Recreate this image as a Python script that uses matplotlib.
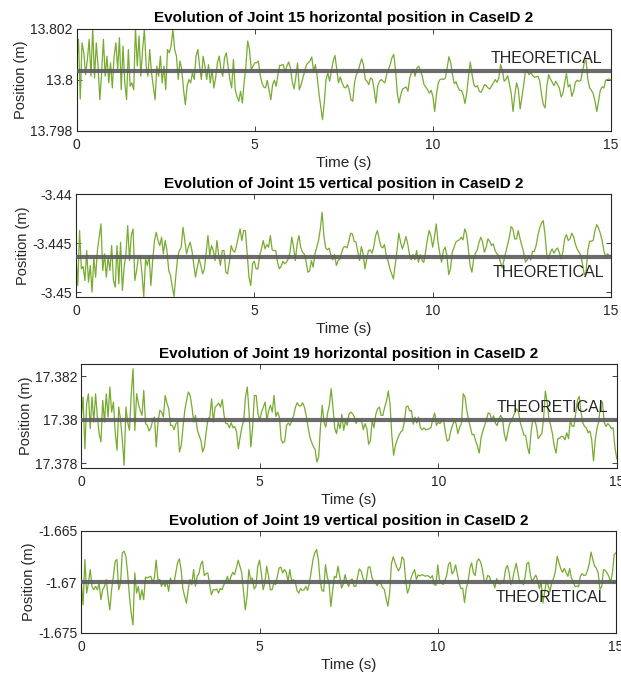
import numpy as np
import matplotlib
matplotlib.use("Agg")
import matplotlib.pyplot as plt

plt.rcParams['font.family'] = ['Liberation Sans', 'DejaVu Sans']

# ---------------- data ----------------
time_s = np.linspace(0, 15, 301)

j15_horizontal = [
    13.80059, 13.80158, 13.79925, 13.80144, 13.80105, 13.80020, 13.80079, 13.80158, 13.80014, 13.80203,
    13.80007, 13.80144, 13.80053, 13.79922, 13.80027, 13.80158, 13.80014, 13.80092, 13.79988, 13.80066,
    13.79968, 13.80092, 13.80144, 13.80040, 13.80164, 13.79961, 13.80131, 13.79988, 13.79922, 13.80118,
    13.79975, 13.79988, 13.79961, 13.80203, 13.80053, 13.80171, 13.80014, 13.80118, 13.80197, 13.80053,
    13.80014, 13.80118, 13.80027, 13.79975, 13.79922, 13.80053, 13.80014, 13.80092, 13.79988, 13.80053,
    13.79961, 13.80118, 13.80105, 13.80131, 13.80197, 13.80118, 13.80092, 13.80001, 13.80073, 13.80040,
    13.79961, 13.79903, 13.79975, 13.80001, 13.79988, 13.80027, 13.80001, 13.80092, 13.80118, 13.80053,
    13.80001, 13.80092, 13.80053, 13.80001, 13.80059, 13.79988, 13.80040, 13.79968, 13.80007, 13.80066,
    13.80092, 13.80040, 13.80014, 13.80086, 13.80105, 13.80053, 13.80001, 13.79968, 13.80079, 13.79961,
    13.79935, 13.79916, 13.79955, 13.79909, 13.79988, 13.80053, 13.80151, 13.80118, 13.80040, 13.80053,
    13.80066, 13.80066, 13.80073, 13.80020, 13.79988, 13.79972, 13.79968, 13.79998, 13.79961, 13.79922,
    13.79981, 13.79998, 13.79975, 13.80020, 13.80056, 13.80057, 13.80059, 13.80029, 13.80053, 13.80069,
    13.80046, 13.79994, 13.79964, 13.80007, 13.80066, 13.79961, 13.79981, 13.80007, 13.80033, 13.80059,
    13.80066, 13.80073, 13.80089, 13.80033, 13.80059, 13.80014, 13.79948, 13.79896, 13.79844, 13.79909,
    13.80001, 13.80027, 13.79994, 13.80033, 13.80073, 13.80095, 13.80040, 13.79988, 13.80011, 13.79988,
    13.79972, 13.79968, 13.79981, 13.79961, 13.79922, 13.79916, 13.79988, 13.80020, 13.80033, 13.80059,
    13.80082, 13.80059, 13.80001, 13.79994, 13.79981, 13.80007, 13.80001, 13.79961, 13.79909, 13.79975,
    13.79994, 13.80001, 13.79994, 13.79988, 13.80020, 13.80040, 13.80059, 13.80086, 13.80099, 13.80040,
    13.79948, 13.79909, 13.79942, 13.79964, 13.79968, 13.79972, 13.79955, 13.80007, 13.80029, 13.80040,
    13.80014, 13.80046, 13.80053, 13.80033, 13.80016, 13.79981, 13.79972, 13.79961, 13.79948, 13.79959,
    13.79935, 13.79876, 13.79942, 13.79988, 13.80001, 13.80003, 13.80001, 13.80007, 13.80046, 13.80090,
    13.80066, 13.80020, 13.79985, 13.79992, 13.79972, 13.79959, 13.79958, 13.79942, 13.79907, 13.79948,
    13.80014, 13.80069, 13.80020, 13.79981, 13.79972, 13.79977, 13.79955, 13.79951, 13.79964, 13.79981,
    13.79977, 13.79968, 13.79964, 13.79977, 13.79988, 13.80001, 13.79990, 13.80007, 13.80059, 13.80037,
    13.79994, 13.80001, 13.80016, 13.79981, 13.79946, 13.79876, 13.79942, 13.79988, 13.79961, 13.79886,
    13.79935, 13.79981, 13.80037, 13.80033, 13.80020, 13.80027, 13.80016, 13.80010, 13.80011, 13.80014,
    13.79994, 13.79942, 13.79903, 13.79890, 13.79977, 13.80020, 13.80003, 13.79990, 13.79977, 13.79994,
    13.79981, 13.79968, 13.79933, 13.79946, 13.79988, 13.80024, 13.79972, 13.79981, 13.79935, 13.79955,
    13.79990, 13.79998, 13.79994, 13.79997, 13.80033, 13.80066, 13.80076, 13.80001, 13.79968, 13.79959,
    13.79946, 13.79916, 13.79876, 13.79916, 13.79959, 13.79972, 13.79968, 13.79998, 13.80001, 13.80003,
    13.79998,
]

j15_vertical = [
    -3.44643, -3.44932, -3.44371, -3.44762, -3.44738, -3.44881, -3.44575, -3.44898, -3.44728, -3.45000,
    -3.44643, -3.44847, -3.44575, -3.44439, -3.44303, -3.44779, -3.44609, -3.44847, -3.44643, -3.44779,
    -3.44524, -3.44881, -3.44949, -3.44524, -3.44915, -3.44490, -3.44983, -3.44745, -3.44609, -3.44320,
    -3.44677, -3.44422, -3.44354, -3.44881, -3.44779, -3.44643, -3.44626, -3.44813, -3.45044, -3.44660,
    -3.44728, -3.44626, -3.44932, -3.44677, -3.44473, -3.44388, -3.44473, -3.44524, -3.44439, -3.44609,
    -3.44473, -3.44575, -3.44779, -3.44830, -3.44949, -3.45044, -3.44830, -3.44643, -3.44575, -3.44541,
    -3.44337, -3.44473, -3.44609, -3.44541, -3.44490, -3.44575, -3.44711, -3.44847, -3.44745, -3.44660,
    -3.44728, -3.44813, -3.44762, -3.44592, -3.44422, -3.44626, -3.44524, -3.44575, -3.44677, -3.44473,
    -3.44626, -3.44728, -3.44575, -3.44575, -3.44796, -3.44813, -3.44694, -3.44524, -3.44575, -3.44592,
    -3.44524, -3.44439, -3.44354, -3.44473, -3.44371, -3.44371, -3.44609, -3.44847, -3.44932, -3.44711,
    -3.44684, -3.44762, -3.44762, -3.44626, -3.44558, -3.44473, -3.44558, -3.44514, -3.44541, -3.44422,
    -3.44568, -3.44575, -3.44575, -3.44694, -3.44762, -3.44738, -3.44684, -3.44711, -3.44694, -3.44660,
    -3.44592, -3.44439, -3.44541, -3.44677, -3.44507, -3.44422, -3.44541, -3.44592, -3.44609, -3.44684,
    -3.44796, -3.44786, -3.44677, -3.44745, -3.44609, -3.44541, -3.44473, -3.44354, -3.44184, -3.44422,
    -3.44548, -3.44568, -3.44551, -3.44626, -3.44670, -3.44616, -3.44728, -3.44677, -3.44660, -3.44592,
    -3.44541, -3.44534, -3.44548, -3.44480, -3.44398, -3.44405, -3.44480, -3.44490, -3.44582, -3.44677,
    -3.44534, -3.44609, -3.44762, -3.44660, -3.44575, -3.44568, -3.44602, -3.44534, -3.44422, -3.44371,
    -3.44456, -3.44534, -3.44548, -3.44514, -3.44626, -3.44684, -3.44762, -3.44813, -3.44864, -3.44718,
    -3.44575, -3.44398, -3.44490, -3.44558, -3.44507, -3.44432, -3.44507, -3.44616, -3.44670, -3.44616,
    -3.44670, -3.44575, -3.44694, -3.44619, -3.44670, -3.44697, -3.44592, -3.44466, -3.44371, -3.44422,
    -3.44541, -3.44439, -3.44303, -3.44490, -3.44602, -3.44694, -3.44575, -3.44541, -3.44626, -3.44820,
    -3.44762, -3.44592, -3.44541, -3.44490, -3.44473, -3.44466, -3.44439, -3.44466, -3.44354, -3.44405,
    -3.44558, -3.44728, -3.44796, -3.44660, -3.44602, -3.44568, -3.44490, -3.44439, -3.44490, -3.44592,
    -3.44541, -3.44456, -3.44480, -3.44524, -3.44507, -3.44575, -3.44609, -3.44626, -3.44694, -3.44752,
    -3.44670, -3.44592, -3.44514, -3.44439, -3.44330, -3.44354, -3.44456, -3.44456, -3.44371, -3.44456,
    -3.44524, -3.44592, -3.44694, -3.44670, -3.44636, -3.44670, -3.44582, -3.44585, -3.44524, -3.44422,
    -3.44344, -3.44296, -3.44269, -3.44412, -3.44626, -3.44660, -3.44592, -3.44558, -3.44602, -3.44568,
    -3.44548, -3.44592, -3.44660, -3.44592, -3.44456, -3.44412, -3.44473, -3.44456, -3.44398, -3.44432,
    -3.44507, -3.44558, -3.44592, -3.44622, -3.44711, -3.44820, -3.44796, -3.44575, -3.44480, -3.44480,
    -3.44473, -3.44371, -3.44310, -3.44344, -3.44398, -3.44473, -3.44575, -3.44643, -3.44609, -3.44626,
    -3.44626,
]

j19_horizontal = [
    17.38012, 17.38104, 17.37867, 17.38073, 17.38119, 17.37959, 17.38104, 17.37989, 17.38119, 17.38012,
    17.37936, 17.37898, 17.38089, 17.37989, 17.38119, 17.38012, 17.38150, 17.38035, 17.38081, 17.37944,
    17.37860, 17.38058, 17.37997, 17.37905, 17.37791, 17.38058, 17.37989, 17.37951, 17.38119, 17.38234,
    17.37951, 17.38119, 17.38073, 17.38043, 17.38020, 17.38134, 17.37982, 17.37974, 17.37948, 17.37963,
    17.37997, 17.38012, 17.37875, 17.37989, 17.38043, 17.38035, 17.38012, 17.38111, 17.38076, 17.38050,
    17.37974, 17.37974, 17.37954, 17.37982, 17.37989, 17.37852, 17.37882, 17.37966, 17.38043, 17.38089,
    17.38127, 17.38111, 17.38058, 17.37989, 17.38020, 17.37954, 17.37928, 17.37905, 17.37852, 17.37875,
    17.37944, 17.38005, 17.38012, 17.38096, 17.37989, 17.38058, 17.38066, 17.38076, 17.38058, 17.38092,
    17.38020, 17.37982, 17.37982, 17.37963, 17.37986, 17.37963, 17.37969, 17.37944, 17.37867, 17.37921,
    17.37966, 17.37997, 17.38104, 17.38150, 17.38035, 17.37875, 17.37966, 17.38111, 17.38111, 17.38027,
    17.37997, 17.38035, 17.38058, 17.38081, 17.37997, 17.38043, 17.38066, 17.38035, 17.38111, 17.38015,
    17.38035, 17.38012, 17.37908, 17.37893, 17.37902, 17.37974, 17.37985, 17.37974, 17.37997, 17.38020,
    17.38058, 17.38078, 17.38064, 17.38063, 17.38078, 17.38058, 17.38020, 17.37969, 17.37924, 17.37898,
    17.37878, 17.37863, 17.37806, 17.37829, 17.37966, 17.38066, 17.37989, 17.37966, 17.38031, 17.38066,
    17.38142, 17.38058, 17.37963, 17.37936, 17.37989, 17.37959, 17.38024, 17.37951, 17.37994, 17.37974,
    17.38027, 17.38035, 17.38027, 17.38012, 17.37982, 17.38005, 17.37994, 17.37997, 17.37954, 17.37982,
    17.37959, 17.37887, 17.37905, 17.37997, 17.37963, 17.38024, 17.38050, 17.38058, 17.38020, 17.38020,
    17.38058, 17.38085, 17.38131, 17.38073, 17.37928, 17.37837, 17.37882, 17.37908, 17.37928, 17.37944,
    17.37951, 17.37989, 17.38058, 17.38063, 17.38040, 17.38043, 17.37979, 17.38012, 17.37985, 17.38012,
    17.37963, 17.37954, 17.37962, 17.37954, 17.37956, 17.37959, 17.37966, 17.38005, 17.38031, 17.37974,
    17.37988, 17.37982, 17.37997, 17.38000, 17.37944, 17.37902, 17.37908, 17.37948, 17.37974, 17.37997,
    17.37982, 17.37936, 17.37966, 17.37982, 17.38119, 17.38104, 17.38043, 17.38000, 17.37966, 17.37931,
    17.37933, 17.37902, 17.37878, 17.37847, 17.37918, 17.37948, 17.37974, 17.38000, 17.38031, 17.38027,
    17.37997, 17.38018, 17.37985, 17.37973, 17.38002, 17.38020, 17.38005, 17.37936, 17.37902, 17.37944,
    17.37982, 17.37995, 17.38015, 17.38034, 17.38050, 17.38035, 17.37986, 17.37959, 17.37930, 17.37927,
    17.37875, 17.37844, 17.37944, 17.38000, 17.38002, 17.37969, 17.37913, 17.37925, 17.37936, 17.38000,
    17.38131, 17.38081, 17.38005, 17.37974, 17.37936, 17.37878, 17.37847, 17.37913, 17.37916, 17.37924,
    17.37922, 17.37908, 17.37940, 17.37913, 17.37995, 17.37971, 17.37969, 17.38027, 17.38089, 17.38107,
    17.38035, 17.37986, 17.37969, 17.37963, 17.37940, 17.37948, 17.37908, 17.37811, 17.37908, 17.37962,
    17.37994, 17.38081, 17.38081, 17.37989, 17.37969, 17.37982, 17.37974, 17.37959, 17.37963, 17.37875,
    17.37821,
]

j19_vertical = [
    -1.67010, -1.67224, -1.66780, -1.67109, -1.67010, -1.66878, -1.67043, -1.67076, -1.67043, -1.67076,
    -1.67010, -1.67174, -1.67076, -1.67043, -1.66977, -1.67141, -1.67273, -1.67076, -1.66944, -1.66796,
    -1.66780, -1.67076, -1.67010, -1.66714, -1.66697, -1.66747, -1.66911, -1.67141, -1.67306, -1.67421,
    -1.66911, -1.67109, -1.67043, -1.67174, -1.67076, -1.67174, -1.66951, -1.66961, -1.66951, -1.66944,
    -1.67003, -1.66961, -1.66786, -1.66977, -1.66977, -1.67043, -1.67003, -1.67043, -1.66993, -1.67092,
    -1.66961, -1.67016, -1.67010, -1.66911, -1.66812, -1.66773, -1.66878, -1.67069, -1.67141, -1.67207,
    -1.67069, -1.66977, -1.67026, -1.66878, -1.67043, -1.66944, -1.66918, -1.66829, -1.66796, -1.66937,
    -1.66918, -1.66911, -1.67026, -1.67125, -1.67076, -1.67079, -1.67069, -1.67109, -1.67063, -1.67076,
    -1.67026, -1.66997, -1.66944, -1.67010, -1.66944, -1.66905, -1.66928, -1.66862, -1.66786, -1.66845,
    -1.66911, -1.67092, -1.67273, -1.67141, -1.66878, -1.66977, -1.66961, -1.67069, -1.67043, -1.66845,
    -1.66786, -1.66911, -1.67076, -1.67010, -1.66845, -1.66934, -1.67076, -1.67076, -1.67010, -1.67026,
    -1.66944, -1.66862, -1.66855, -1.66911, -1.66878, -1.66905, -1.66993, -1.66878, -1.66993, -1.66977,
    -1.66993, -1.67082, -1.67109, -1.67063, -1.67082, -1.67076, -1.67043, -1.67082, -1.67010, -1.66895,
    -1.66780, -1.66714, -1.66681, -1.66780, -1.66993, -1.67082, -1.67092, -1.66829, -1.66951, -1.67010,
    -1.67240, -1.67092, -1.66944, -1.66957, -1.66845, -1.66944, -1.67059, -1.67020, -1.66928, -1.67003,
    -1.67043, -1.66984, -1.66970, -1.67043, -1.67043, -1.66951, -1.66872, -1.66891, -1.66961, -1.67010,
    -1.66967, -1.66855, -1.66852, -1.66951, -1.66997, -1.67003, -1.67036, -1.66993, -1.67010, -1.67056,
    -1.67072, -1.67161, -1.67237, -1.67109, -1.66822, -1.66753, -1.66806, -1.66855, -1.66891, -1.66855,
    -1.66753, -1.66780, -1.66984, -1.67109, -1.67059, -1.66961, -1.66914, -1.66878, -1.66974, -1.66931,
    -1.66941, -1.66928, -1.66934, -1.66944, -1.66937, -1.66944, -1.66961, -1.66937, -1.67026, -1.67033,
    -1.66832, -1.66987, -1.67010, -1.67023, -1.66987, -1.66937, -1.66829, -1.66806, -1.66921, -1.66895,
    -1.66832, -1.66921, -1.67010, -1.67066, -1.67059, -1.67201, -1.67059, -1.67003, -1.66868, -1.66812,
    -1.66911, -1.66937, -1.66799, -1.66773, -1.66803, -1.66872, -1.66984, -1.66997, -1.66937, -1.66944,
    -1.67010, -1.66997, -1.67059, -1.66967, -1.67010, -1.67020, -1.67003, -1.66997, -1.66878, -1.66839,
    -1.66905, -1.67026, -1.66977, -1.66888, -1.66816, -1.66914, -1.67007, -1.66990, -1.67026, -1.66951,
    -1.66819, -1.66806, -1.66937, -1.66997, -1.66964, -1.66931, -1.66984, -1.67066, -1.66997, -1.67207,
    -1.67095, -1.66984, -1.67036, -1.67095, -1.66997, -1.66964, -1.66895, -1.66747, -1.66812, -1.66868,
    -1.66905, -1.66868, -1.66908, -1.66944, -1.66868, -1.66964, -1.66993, -1.67046, -1.67039, -1.67046,
    -1.66944, -1.66918, -1.66937, -1.66931, -1.66888, -1.66822, -1.66707, -1.66780, -1.66845, -1.66865,
    -1.66911, -1.67072, -1.67043, -1.66878, -1.66888, -1.66911, -1.66947, -1.67003, -1.66911, -1.66730,
    -1.66714,
]

theoretical = [13.80034, -3.44639, 17.38, -1.67]

titles = [
    "Evolution of Joint 15 horizontal position in CaseID 2",
    "Evolution of Joint 15 vertical position in CaseID 2",
    "Evolution of Joint 19 horizontal position in CaseID 2",
    "Evolution of Joint 19 vertical position in CaseID 2",
]
y_limits = [(13.798, 13.802), (-3.4505, -3.44), (17.3778, 17.38254), (-1.675, -1.665)]
y_ticks = [[13.798, 13.8, 13.802], [-3.45, -3.445, -3.44],
           [17.378, 17.38, 17.382], [-1.675, -1.67, -1.665]]
y_tick_labels = [["13.798", "13.8", "13.802"], ["-3.45", "-3.445", "-3.44"],
                 ["17.378", "17.38", "17.382"], ["-1.675", "-1.67", "-1.665"]]
x_ticks = [0, 5, 10, 15]
x_tick_labels = ["0", "5", "10", "15"]
theory_label = "THEORETICAL"
x_label = "Time (s)"
y_label = "Position (m)"

series = [j15_horizontal, j15_vertical, j19_horizontal, j19_vertical]

# ---------------- layout / style ----------------
W, H = 621, 675
fig = plt.figure(figsize=(W / 100, H / 100), dpi=100)

# axes boxes in pixels: left, right, top, bottom
boxes = [(76.7, 611.0, 28.5, 131.0),
         (76.0, 611.0, 194.3, 297.0),
         (81.3, 616.7, 364.3, 467.7),
         (81.3, 616.0, 531.0, 633.0)]
# label offset (pixels): dx from right edge, dy of baseline from line (+ up)
label_offsets = [(-9, 8), (-7, -19.7), (-8.7, 7.6), (-8.5, -20)]

green = '#77AC30'
axis_color = '#262626'

for i in range(4):
    l, r, t, b = boxes[i]
    ax = fig.add_axes([l / W, 1 - b / H, (r - l) / W, (b - t) / H])
    ax.plot(time_s, series[i], color=green, lw=0.9, zorder=2)
    ax.axhline(theoretical[i], color='#5e5e5e', lw=3.0, alpha=0.92, zorder=3)
    dx, dy = label_offsets[i]
    ax.annotate(theory_label, xy=(1.0, theoretical[i]),
                xycoords=('axes fraction', 'data'),
                xytext=(dx * 0.72, dy * 0.72), textcoords='offset points',
                ha='right', va='baseline', fontsize=11.5, color='#262626', zorder=4)
    ax.set_xlim(0, 15)
    ax.set_ylim(*y_limits[i])
    ax.set_xticks(x_ticks)
    ax.set_xticklabels(x_tick_labels)
    ax.set_yticks(y_ticks[i])
    ax.set_yticklabels(y_tick_labels[i])
    ax.tick_params(direction='in', top=True, right=True, length=3.5, width=0.6,
                   colors=axis_color, labelsize=10)
    ax.tick_params(axis='x', pad=5)
    ax.tick_params(axis='y', pad=3)
    for s in ax.spines.values():
        s.set_color(axis_color)
        s.set_linewidth(0.8)
    ax.set_title(titles[i], fontsize=11, fontweight='bold', pad=4.5, color='black')
    ax.set_xlabel(x_label, fontsize=11, color=axis_color, labelpad=3)
    ax.set_ylabel(y_label, fontsize=10.5, color=axis_color, labelpad=1.5)

fig.savefig('out.png', dpi=100)
